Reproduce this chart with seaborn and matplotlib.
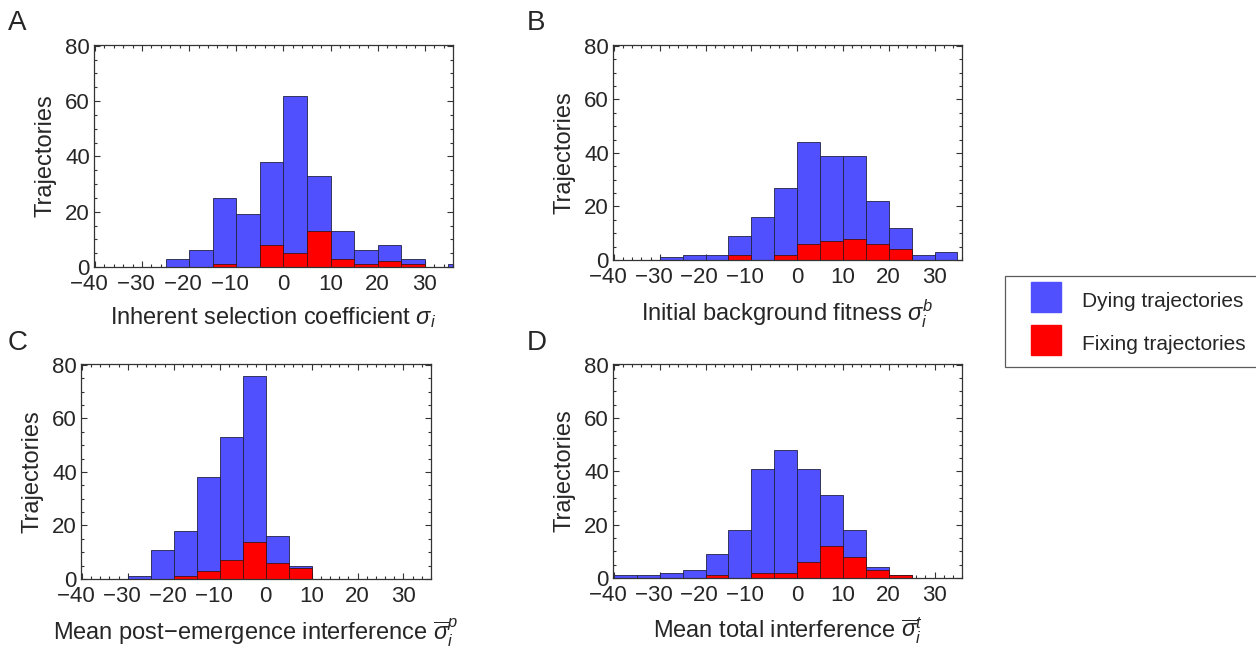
import numpy as np
import pandas as pd
import matplotlib
matplotlib.use("Agg")
import matplotlib.pyplot as plt
import seaborn as sns
from matplotlib.lines import Line2D
from matplotlib.ticker import MultipleLocator

# bin edges, width 5
bin_edges = list(range(-40, 45, 5))
bin_centers = [e + 2.5 for e in bin_edges[:-1]]

# counts per bin, from -40 to 40
dying_a = [0, 0, 0, 3, 6, 25, 19, 38, 62, 33, 13, 6, 8, 3, 0, 1]
fixing_a = [0, 0, 0, 0, 0, 1, 0, 8, 5, 13, 3, 1, 2, 1, 0, 0]
dying_b = [0, 0, 1, 2, 2, 9, 16, 27, 44, 39, 39, 22, 12, 2, 3, 0]
fixing_b = [0, 0, 0, 0, 0, 2, 0, 2, 6, 7, 8, 6, 4, 0, 0, 0]
dying_c = [0, 0, 1, 11, 18, 38, 53, 76, 16, 5, 0, 0, 0, 0, 0, 0]
fixing_c = [0, 0, 0, 0, 1, 3, 7, 14, 6, 4, 0, 0, 0, 0, 0, 0]
dying_d = [1, 1, 2, 3, 9, 18, 41, 48, 41, 31, 18, 4, 1, 0, 0, 0]
fixing_d = [0, 0, 0, 0, 1, 0, 2, 2, 6, 12, 8, 3, 1, 0, 0, 0]

x_ticks = [-40, -30, -20, -10, 0, 10, 20, 30]
y_ticks = [0, 20, 40, 60, 80]

panel_letters = ["A", "B", "C", "D"]
x_labels = [
    r"Inherent selection coefficient $\sigma_i$",
    r"Initial background fitness $\sigma_i^b$",
    "Mean post\u2212emergence interference $\\overline{\\sigma}_i^p$",
    r"Mean total interference $\overline{\sigma}_i^t$",
]
legend_labels = ["Dying trajectories", "Fixing trajectories"]

blue = "#5050ff"
red = "#ff0000"

sns.set_style("ticks")
plt.rcParams["font.family"] = ["Liberation Sans", "DejaVu Sans"]
plt.rcParams["mathtext.fontset"] = "custom"
plt.rcParams["mathtext.it"] = "Liberation Sans:italic"
plt.rcParams["mathtext.rm"] = "Liberation Sans"

W, H = 1256, 647
fig = plt.figure(figsize=(W / 100, H / 100), dpi=100)

# axes boxes in pixels: left, right, top, bottom
boxes = [(94, 453, 45, 267), (613, 962, 45, 260), (81, 431, 364, 579), (613, 962, 364, 578)]
letter_pos = [(8, 23), (527, 23), (8, 343), (527, 343)]
dying = [dying_a, dying_b, dying_c, dying_d]
fixing = [fixing_a, fixing_b, fixing_c, fixing_d]

# negative labels get a trailing figure space so the digits sit on the tick
x_ticklabels = [("\u2212%d\u2007" % -v) if v < 0 else str(v) for v in x_ticks]

for i in range(4):
    l, r, t, b = boxes[i]
    ax = fig.add_axes([l / W, 1 - b / H, (r - l) / W, (b - t) / H])
    df = pd.DataFrame({"x": bin_centers, "dying": dying[i], "fixing": fixing[i]})
    sns.histplot(data=df, x="x", weights="dying", bins=bin_edges, ax=ax, color=blue,
                 alpha=1, edgecolor="#222244", linewidth=0.6)
    sns.histplot(data=df, x="x", weights="fixing", bins=bin_edges, ax=ax, color=red,
                 alpha=1, edgecolor="#441111", linewidth=0.6)
    ax.set_xlim(-40.2, 36)
    ax.set_ylim(0, 80.3)
    ax.set_xticks(x_ticks)
    ax.set_xticklabels(x_ticklabels)
    ax.set_yticks(y_ticks)
    ax.xaxis.set_minor_locator(MultipleLocator(2))
    ax.yaxis.set_minor_locator(MultipleLocator(5))
    ax.tick_params(which="both", direction="in", top=True, right=True, labelsize=16,
                   color="#333333", width=0.8)
    ax.tick_params(which="major", length=4)
    ax.tick_params(which="minor", length=2)
    ax.tick_params(axis="x", which="major", pad=5)
    ax.tick_params(axis="y", which="major", pad=3)
    for s in ax.spines.values():
        s.set_color("#333333")
        s.set_linewidth(0.9)
    ax.set_ylabel("Trajectories", fontsize=17, labelpad=6)
    ax.set_xlabel(x_labels[i], fontsize=17, labelpad=7)
    fig.text(letter_pos[i][0] / W, 1 - letter_pos[i][1] / H, panel_letters[i],
             fontsize=20, va="center", ha="left")

handles = [Line2D([], [], marker="s", markersize=22, color=blue, linestyle="none"),
           Line2D([], [], marker="s", markersize=22, color=red, linestyle="none")]
leg = fig.legend(handles, legend_labels, loc="upper left",
                 bbox_to_anchor=(1005 / W, 1 - 276 / H), fontsize=15,
                 frameon=True, fancybox=False, handlelength=2.79, handleheight=1.45,
                 handletextpad=0.36, labelspacing=0.87, borderpad=0.55, borderaxespad=0,
                 edgecolor="#333333")
leg.get_frame().set_linewidth(0.9)

fig.savefig("out.png", dpi=100)
